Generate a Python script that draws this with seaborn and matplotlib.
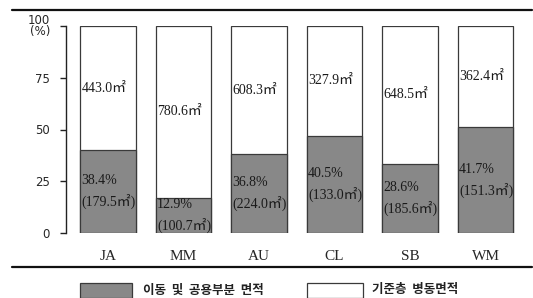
import pandas as pd
import seaborn as sns
import matplotlib.pyplot as plt
from matplotlib.lines import Line2D
from matplotlib.patches import Rectangle

wards = ['JA', 'MM', 'AU', 'CL', 'SB', 'WM']
# share of circulation/common area as drawn in the bars (%)
common_share = [40, 17, 38, 47, 33.5, 51]
common_pct_labels = ['38.4%', '12.9%', '36.8%', '40.5%', '28.6%', '41.7%']
common_area_labels = ['179.5㎡', '100.7㎡', '224.0㎡', '133.0㎡', '185.6㎡', '151.3㎡']
ward_area_labels = ['443.0㎡', '780.6㎡', '608.3㎡', '327.9㎡', '648.5㎡', '362.4㎡']
yticks = [0, 25, 50, 75, 100]
ytick_labels = ['0', '25', '50', '75', '100\n(%)']

df = pd.DataFrame({'ward': wards, 'common': common_share, 'total': [100] * len(wards)})

sns.set_style('white')
plt.rcParams['font.family'] = ['Liberation Serif', 'Noto Sans CJK KR']

W, H = 533, 298
fig = plt.figure(figsize=(W / 100, H / 100), dpi=100)
ax = fig.add_axes([66 / W, (H - 233) / H, (532 - 66) / W, (233 - 26) / H])

gray = '#888888'
edge = '#3a3a3a'
sns.barplot(data=df, x='ward', y='total', color='white', edgecolor=edge,
            linewidth=0.9, width=0.74, ax=ax, saturation=1)
sns.barplot(data=df, x='ward', y='common', color=gray, edgecolor=edge,
            linewidth=0.9, width=0.74, ax=ax, saturation=1)

ax.set_xlim(-0.556, 5.616)
ax.set_ylim(0, 100)
ax.set_xlabel('')
ax.set_ylabel('')

for i, h in enumerate(common_share):
    left = i - 0.37 + 0.02
    ax.text(left, (h + 100) / 2, ward_area_labels[i], ha='left', va='center',
            fontsize=10, color='#1a1a1a')
    ax.text(left, h / 2, common_pct_labels[i] + '\n(' + common_area_labels[i] + ')',
            ha='left', va='center', fontsize=10, color='#1a1a1a', linespacing=1.55)

for s in ['top', 'right', 'bottom']:
    ax.spines[s].set_visible(False)
ax.spines['left'].set_color('#222222')
ax.spines['left'].set_linewidth(1.0)
ax.spines['left'].set_bounds(0, 100)

ax.set_yticks(yticks)
ax.set_yticklabels(ytick_labels, family=['DejaVu Sans'], fontsize=8.5, linespacing=0.75)
ax.tick_params(axis='y', left=True, length=4.5, width=1.0, color='#222222', pad=7)
ax.tick_params(axis='x', bottom=False, pad=9, labelsize=11)
for lab in ax.get_xticklabels():
    lab.set_family(['Liberation Serif'])

# rules above and below the chart
fig.add_artist(Line2D([12 / W, 532 / W], [(H - 10) / H] * 2, color='#111111', lw=1.6))
fig.add_artist(Line2D([12 / W, 532 / W], [(H - 267) / H] * 2, color='#111111', lw=1.6))

# legend
fig.add_artist(Rectangle((80 / W, 0), 52 / W, (H - 283) / H, facecolor=gray,
                         edgecolor=edge, lw=0.9, transform=fig.transFigure))
fig.add_artist(Rectangle((307 / W, 0), 56 / W, (H - 283) / H, facecolor='white',
                         edgecolor=edge, lw=0.9, transform=fig.transFigure))
fig.text(143 / W, (H - 290) / H, '이동  및  공용부분  면적', family=['Noto Sans CJK KR'],
         fontsize=9, fontweight='bold', va='center', color='#222222')
fig.text(372 / W, (H - 290) / H, '기준층  병동면적', family=['Noto Sans CJK KR'],
         fontsize=9, fontweight='bold', va='center', color='#222222')

fig.savefig('out.png', dpi=100)
